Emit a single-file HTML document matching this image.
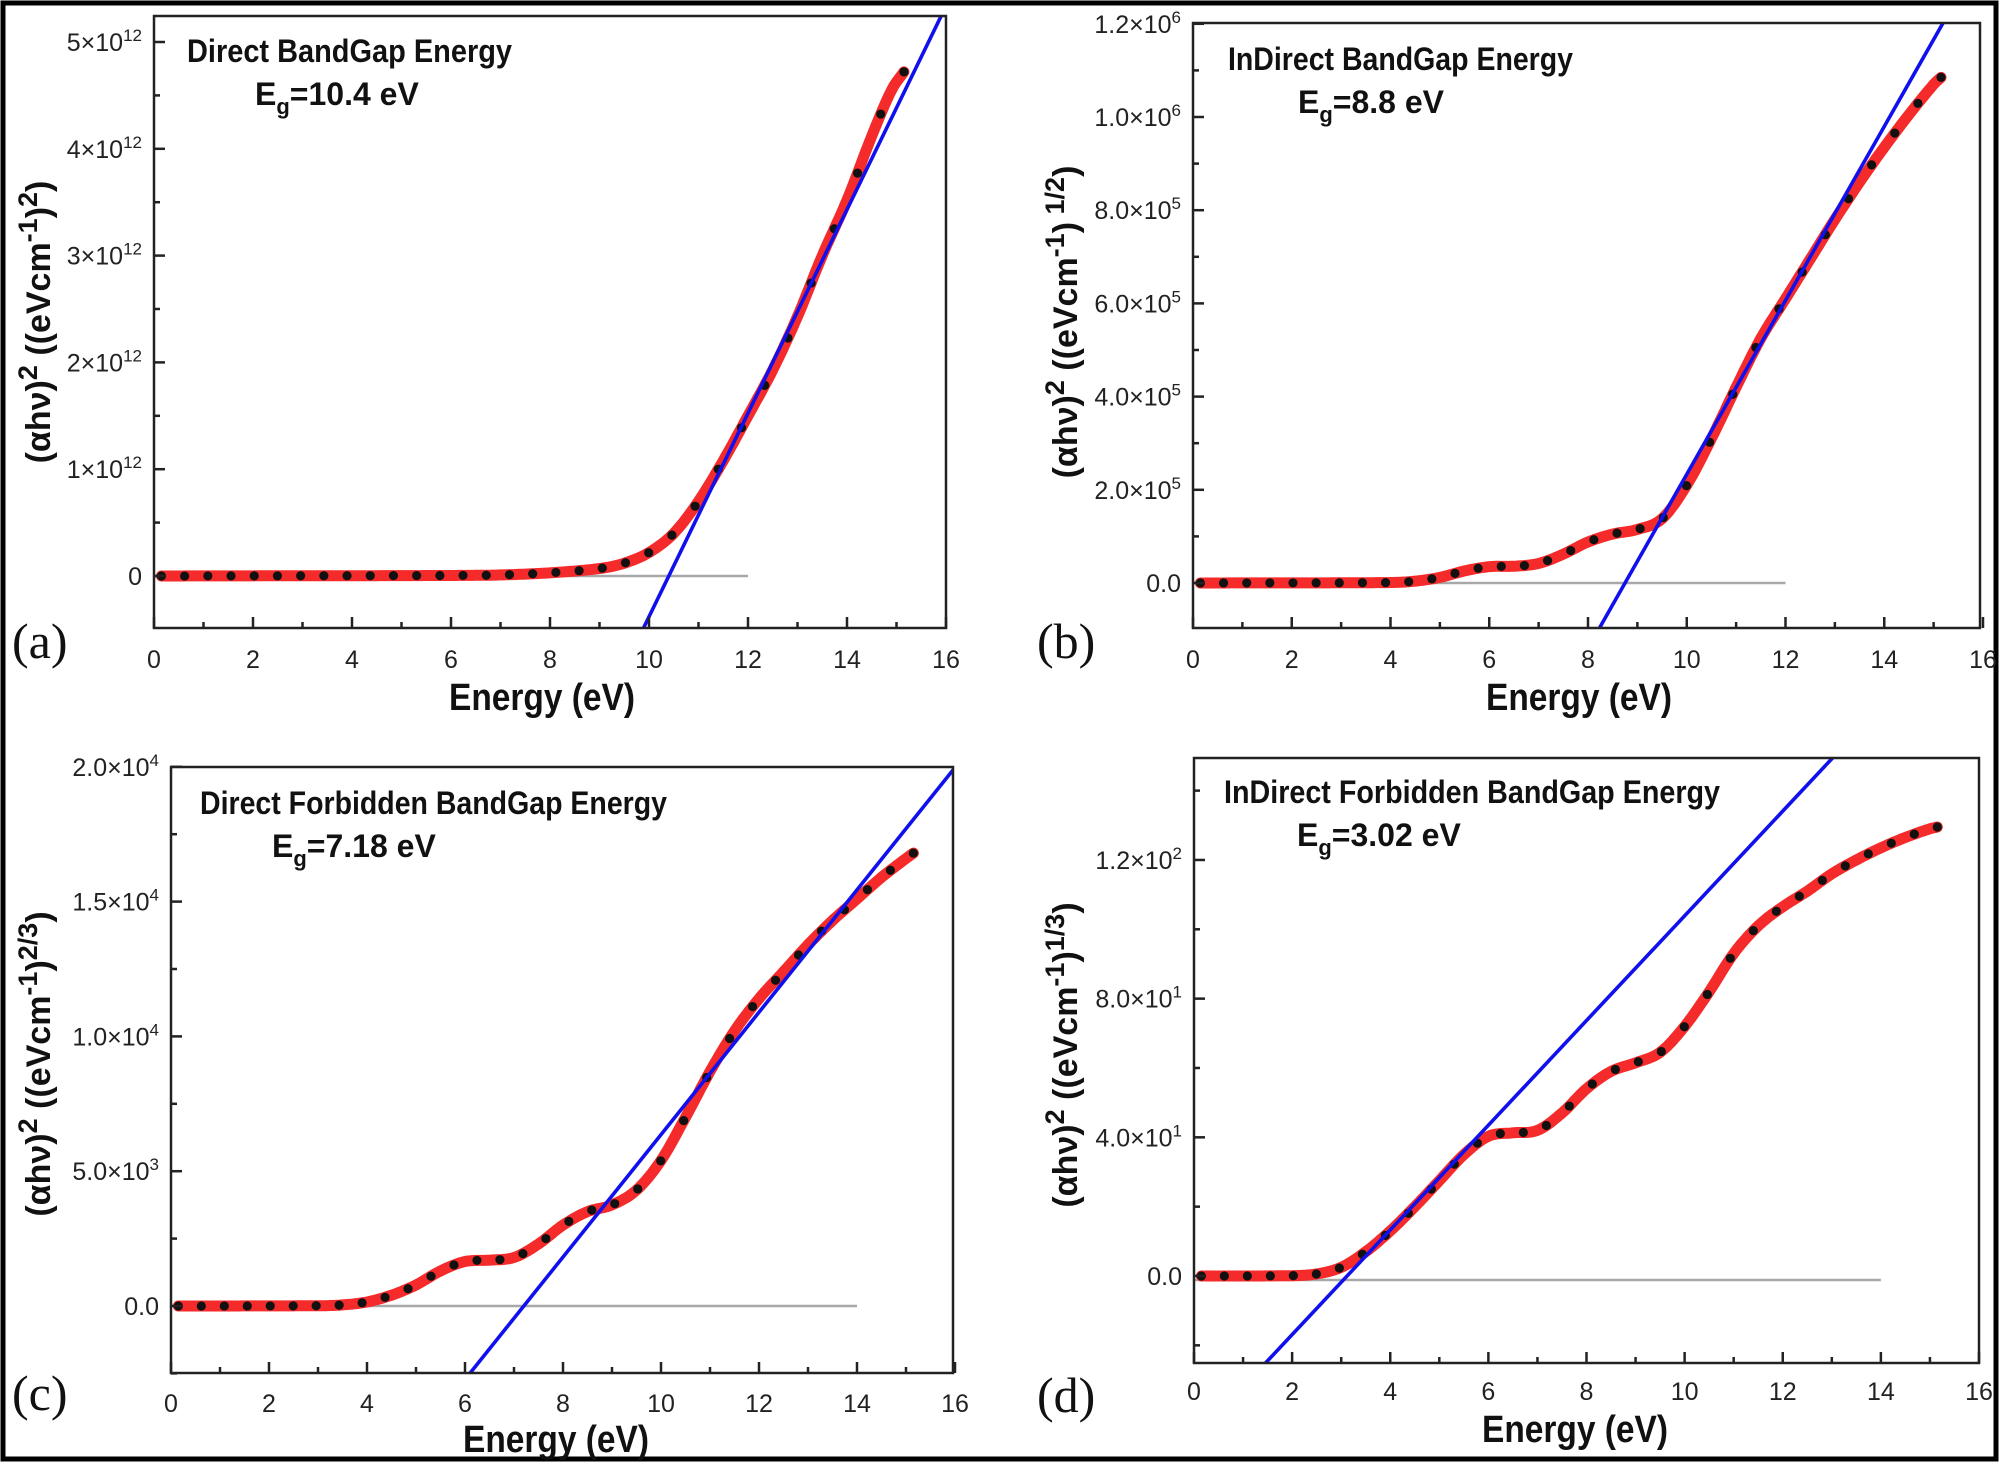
<!DOCTYPE html>
<html><head><meta charset="utf-8">
<style>
html,body{margin:0;padding:0;background:#fff;width:2000px;height:1464px;overflow:hidden;}
svg{display:block;position:absolute;left:0;top:0;overflow:hidden;}
text{font-family:"Liberation Sans",Arial,sans-serif;}
</style></head>
<body>
<svg id="s" width="2000" height="1464" viewBox="0 0 2000 1464" xmlns="http://www.w3.org/2000/svg">
<rect x="0" y="0" width="2000" height="1464" fill="#fff"/>
<rect x="3" y="3" width="1993" height="1456" fill="none" stroke="#000" stroke-width="5"/>
</svg>
<script>
const S=document.getElementById('s');const NS='http://www.w3.org/2000/svg';
function el(t,a,txt){const e=document.createElementNS(NS,t);for(const k in a)e.setAttribute(k,a[k]);if(txt!==undefined)e.textContent=txt;S.appendChild(e);return e;}
function html(s){S.insertAdjacentHTML('beforeend',s);}
function interp(pts,x){
  for(let i=0;i<pts.length-1;i++){if(x<=pts[i+1][0]){const p0=pts[Math.max(0,i-1)],p1=pts[i],p2=pts[i+1],p3=pts[Math.min(pts.length-1,i+2)];
   const t=(x-p1[0])/(p2[0]-p1[0]);const m1=(p2[1]-p0[1])/(p2[0]-p0[0])*(p2[0]-p1[0]);const m2=(p3[1]-p1[1])/(p3[0]-p1[0])*(p2[0]-p1[0]);
   const t2=t*t,t3=t2*t;return (2*t3-3*t2+1)*p1[1]+(t3-2*t2+t)*m1+(-2*t3+3*t2)*p2[1]+(t3-t2)*m2;}}
  return pts[pts.length-1][1];}
function panel(P){
  const X=v=>P.x0+(P.x1-P.x0)*v/16, Y=v=>P.y0-v*P.py;
  const id='c'+P.name;html(`<clipPath id="${id}"><rect x="${P.x0}" y="${P.top}" width="${P.right-P.x0}" height="${P.bot-P.top}"/></clipPath>`);
  el('line',{x1:X(0),y1:Y(0)+(P.gy||0),x2:X(P.gx),y2:Y(0)+(P.gy||0),stroke:'#a8a8a8','stroke-width':2.5});
  let d='';for(let e=0.15;e<=15.151;e+=0.05){d+=(d?'L':'M')+X(e).toFixed(1)+','+Y(interp(P.data,e)).toFixed(1);}
  el('path',{d:d,fill:'none',stroke:'#f52a2a','stroke-width':11,'stroke-linecap':'round','stroke-linejoin':'round'});
  for(let i=0;i<=32;i++){const e=0.15+i*15/32;el('circle',{cx:X(e),cy:Y(interp(P.data,e)),r:4.6,fill:'#111'});}
  const [e0,s]=P.blue;const g=document.createElementNS(NS,'g');g.setAttribute('clip-path',`url(#${id})`);S.appendChild(g);
  const l=document.createElementNS(NS,'line');const ea=e0-5,eb=e0+20;
  [['x1',X(ea)],['y1',Y((ea-e0)*s)],['x2',X(eb)],['y2',Y((eb-e0)*s)],['stroke','#1010ee'],['stroke-width',3.6]].forEach(a=>l.setAttribute(a[0],a[1]));g.appendChild(l);
  el('rect',{x:P.x0,y:P.top,width:P.right-P.x0,height:P.bot-P.top,fill:'none',stroke:'#222','stroke-width':2.5});
  for(let v=0;v<=16;v++){const L=v%2?6:11;el('line',{x1:X(v),y1:P.bot,x2:X(v),y2:P.bot-L,stroke:'#222','stroke-width':2.5});
    if(v%2==0)el('text',{x:X(v),y:P.xl,'font-size':25,'text-anchor':'middle',fill:'#222','dominant-baseline':'central'},v);}
  P.yt.forEach(t=>{const y=Y(t[0]);if(y<P.top-1||y>P.bot+1)return;el('line',{x1:P.x0,y1:y,x2:P.x0+(t[1]?11:6),y2:y,stroke:'#222','stroke-width':2.5});
    if(t[1])html(`<text x="${P.x0-12}" y="${y+9}" font-size="25" text-anchor="end" fill="#222">${t[1]}</text>`);});
  html(`<text x="${P.xtx}" y="${P.xty}" font-size="38" font-weight="bold" text-anchor="middle" fill="#111" textLength="186" lengthAdjust="spacingAndGlyphs">Energy (eV)</text>`);
  html(`<text transform="translate(${P.ytx},${P.yty}) rotate(-90)" font-size="34" font-weight="bold" text-anchor="middle" fill="#111">${P.ytitle}</text>`);
  html(`<text x="${P.ax}" y="${P.ay}" font-size="32" font-weight="bold" fill="#111" textLength="${P.aw}" lengthAdjust="spacingAndGlyphs">${P.ann}</text>`);
  html(`<text x="${P.ex}" y="${P.ey}" font-size="32" font-weight="bold" fill="#111">E<tspan font-size="22" dy="9">g</tspan><tspan dy="-9">=${P.eg} eV</tspan></text>`);
  html(`<text x="${P.lx}" y="${P.ly}" font-size="50" fill="#111" style='font-family:"Liberation Serif",serif'>(${P.name})</text>`);
}
const T=(m,e)=>`${m}×10<tspan dy="-10" font-size="17">${e}</tspan>`;
const SU=(s)=>`<tspan dy="-13" font-size="27">${s}</tspan><tspan dy="13">`;
const yTitle=(p)=>`(αhν)${SU('2')} ((eVcm</tspan>${SU('-1')})</tspan>${SU(p)})</tspan>`;
panel({name:'a',x0:154,x1:946,right:946,top:16,bot:628,y0:576,py:106.8,gx:12,xl:660,xtx:542,xty:710,ytx:50,yty:322,
 ytitle:yTitle('2'),
 ann:'Direct BandGap Energy',aw:325,ax:187,ay:62,ex:255,ey:105,eg:'10.4',lx:12,ly:658,blue:[10.4,0.953],
 yt:[[-0.5,null],[0,'0'],[0.5,null],[1,T(1,12)],[1.5,null],[2,T(2,12)],[2.5,null],[3,T(3,12)],[3.5,null],[4,T(4,12)],[4.5,null],[5,T(5,12)]],
 data:[[0,0],[6,0.005],[7,0.01],[8,0.03],[9,0.07],[9.5,0.12],[10,0.22],[10.5,0.4],[11,0.7],[11.5,1.08],[12,1.5],[12.5,1.93],[13,2.43],[13.5,3.0],[14,3.52],[14.5,4.12],[14.9,4.55],[15.15,4.72]]});
panel({name:'b',x0:1193,x1:1983,right:1980,top:23,bot:628,y0:583,py:46.6,gx:12,xl:660,xtx:1579,xty:710,ytx:1077,yty:322,
 ytitle:yTitle(' 1/2'),
 ann:'InDirect BandGap Energy',aw:345,ax:1228,ay:70,ex:1298,ey:113,eg:'8.8',lx:1037,ly:658,blue:[8.75,1.866],
 yt:[[-1,null],[0,'0.0'],[1,null],[2,T('2.0',5)],[3,null],[4,T('4.0',5)],[5,null],[6,T('6.0',5)],[7,null],[8,T('8.0',5)],[9,null],[10,T('1.0',6)],[11,null],[12,T('1.2',6)]],
 data:[[0,0],[4,0.01],[4.5,0.04],[5,0.12],[5.5,0.26],[6,0.35],[6.5,0.36],[7,0.42],[7.5,0.62],[8,0.88],[8.5,1.05],[9,1.15],[9.5,1.38],[10,2.1],[10.5,3.1],[11,4.2],[11.5,5.25],[12,6.1],[12.5,6.95],[13,7.8],[13.5,8.6],[14,9.35],[14.5,10.05],[15,10.7],[15.15,10.85]]});
panel({name:'c',x0:171,x1:955,right:953,top:767,bot:1373,y0:1306,py:26.96,gx:14,xl:1404,xtx:556,xty:1452,ytx:50,yty:1064,
 ytitle:yTitle('2/3'),
 ann:'Direct Forbidden BandGap Energy',aw:467,ax:200,ay:814,ex:272,ey:857,eg:'7.18',lx:12,ly:1410,blue:[7.2,2.27],
 yt:[[-2.5,null],[0,'0.0'],[2.5,null],[5,T('5.0',3)],[7.5,null],[10,T('1.0',4)],[12.5,null],[15,T('1.5',4)],[17.5,null],[20,T('2.0',4)]],
 data:[[0,0],[3,0.01],[3.5,0.04],[4,0.15],[4.5,0.4],[5,0.78],[5.5,1.3],[6,1.65],[6.5,1.7],[7,1.8],[7.5,2.3],[8,3.0],[8.5,3.5],[9,3.75],[9.5,4.3],[10,5.4],[10.5,7.0],[11,8.7],[11.5,10.2],[12,11.4],[12.5,12.4],[13,13.4],[13.5,14.3],[14,15.1],[14.5,15.9],[15,16.6],[15.15,16.8]]});
panel({name:'d',x0:1194,x1:1979,right:1979,top:758,bot:1363,y0:1276,py:3.467,gx:14,gy:4,xl:1392,xtx:1575,xty:1442,ytx:1077,yty:1055,
 ytitle:yTitle('1/3'),
 ann:'InDirect Forbidden BandGap Energy',aw:496,ax:1224,ay:803,ex:1297,ey:846,eg:'3.02',lx:1037,ly:1412,blue:[3.12,15.1],
 yt:[[-20,null],[0,'0.0'],[20,null],[40,T('4.0',1)],[60,null],[80,T('8.0',1)],[100,null],[120,T('1.2',2)],[140,null]],
 data:[[0,0],[2,0.1],[2.5,0.6],[3,2.5],[3.5,7],[4,13],[4.5,20],[5,27.5],[5.5,35],[6,40.3],[6.5,41.3],[7,42],[7.5,47],[8,54],[8.5,59],[9,61.5],[9.5,64.5],[10,72],[10.5,82],[11,93],[11.5,101],[12,106.5],[12.5,111],[13,116],[13.5,120],[14,123.5],[14.5,126.5],[15,129],[15.15,129.5]]});
</script>
</body></html>
